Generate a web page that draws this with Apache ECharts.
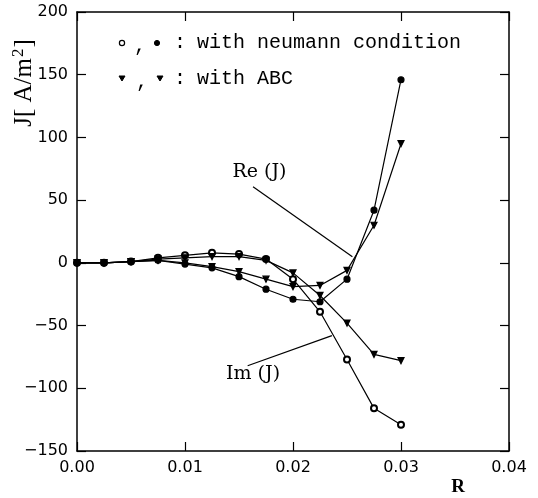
<!DOCTYPE html>
<html>
<head>
<meta charset="utf-8">
<script src="https://cdn.jsdelivr.net/npm/echarts@6/dist/echarts.min.js"></script>
<style>html,body{margin:0;padding:0;background:#fff}#c{width:538px;height:498px}</style>
</head>
<body>
<div id="c"></div>
<script>
const rValues = [0, 0.0025, 0.005, 0.0075, 0.01, 0.0125, 0.015, 0.0175, 0.02, 0.0225, 0.025, 0.0275, 0.03];
const imNeumann = [0, 0, 1, 4, 6, 8, 7, 3, -13, -39, -77, -116, -129];
const reNeumann = [0, 0, 1, 2, -1, -4, -11, -21, -29, -31, -13, 42, 146];
const imABC = [0, 0, 1, 3, 4, 5, 5, 2, -8, -26, -48, -73, -78];
const reABC = [0, 0, 1, 2, 0, -3, -7, -13, -19, -18, -6, 30, 95];
const xTicks = [0, 0.01, 0.02, 0.03, 0.04];
const yTicks = [-150, -100, -50, 0, 50, 100, 150, 200];
const reLeader = [[0.0163, 60.6], [0.0255, 4.8]];
const imLeader = [[0.0158, -82], [0.0236, -58]];
const reLabelPos = [0.0169, 72.5];
const imLabelPos = [0.0163, -89];

const pair = (ys) => rValues.map((x, i) => [x, ys[i]]);
const chart = echarts.init(document.getElementById('c'), null, {renderer: 'canvas'});
const black = '#000';
const lineStyle = {color: black, width: 1.2};
const tickFont = {color: black, fontSize: 16, fontFamily: 'DejaVu Sans'};
const serif = 'DejaVu Serif';

function mkSeries(name, data, symbol, size, rotate) {
  return {
    name, type: 'line', data: pair(data), symbol, symbolSize: size, symbolRotate: rotate || 0,
    lineStyle, itemStyle: {color: black, borderColor: black, borderWidth: 1.2},
    showAllSymbol: true, animation: false, z: 3
  };
}

const axisCommon = {
  axisLine: {show: true, onZero: false, lineStyle: {color: black, width: 1.5}},
  axisTick: {show: true, inside: true, length: 9, lineStyle: {color: black, width: 1.2}},
  splitLine: {show: false}
};

chart.setOption({
  animation: false,
  grid: {left: 77, right: 29, top: 12, bottom: 47},
  xAxis: [
    Object.assign({type: 'value', min: 0, max: 0.04, interval: 0.01, position: 'bottom',
      axisLabel: Object.assign({margin: 9, formatter: v => v.toFixed(2)}, tickFont)}, axisCommon),
    Object.assign({type: 'value', min: 0, max: 0.04, interval: 0.01, position: 'top',
      axisLabel: {show: false}}, axisCommon)
  ],
  yAxis: [
    Object.assign({type: 'value', min: -150, max: 200, interval: 50, position: 'left',
      axisLabel: Object.assign({margin: 9, formatter: v => String(v).replace('-', '\u2212')}, tickFont)}, axisCommon),
    Object.assign({type: 'value', min: -150, max: 200, interval: 50, position: 'right',
      axisLabel: {show: false}}, axisCommon)
  ],
  series: [
    mkSeries('Im neumann', imNeumann, 'emptyCircle', 6),
    mkSeries('Re neumann', reNeumann, 'circle', 6),
    mkSeries('Im ABC', imABC, 'triangle', 6, 180),
    Object.assign(mkSeries('Re ABC', reABC, 'triangle', 6, 180), {
      markLine: {
        silent: true, symbol: ['none', 'none'], animation: false,
        lineStyle: {color: black, width: 1.2, type: 'solid', opacity: 1}, label: {show: false},
        data: [
          [{coord: reLeader[0]}, {coord: reLeader[1]}],
          [{coord: imLeader[0]}, {coord: imLeader[1]}]
        ]
      }
    })
  ],
  graphic: [
    // y-axis title
    {type: 'text', x: 24, y: 83, rotation: Math.PI / 2,
      style: {text: '{a|J[ A/m}{s|2}{a|]}', align: 'center', verticalAlign: 'middle',
        rich: {a: {fontFamily: 'Liberation Serif', fontSize: 25, fill: black},
               s: {fontFamily: 'Liberation Serif', fontSize: 17, fill: black, verticalAlign: 'top', padding: [0, 1, 10, 1]}}}},
    // x-axis name
    {type: 'text', x: 458, y: 487,
      style: {text: 'R', align: 'center', verticalAlign: 'middle', fontFamily: 'Liberation Serif', fontWeight: 'bold', fontSize: 19, fill: black}},
    // legend line 1
    {type: 'circle', shape: {cx: 122, cy: 43, r: 2.6}, style: {fill: '#fff', stroke: black, lineWidth: 1.2}},
    {type: 'text', x: 140, y: 46, style: {text: ',', align: 'center', verticalAlign: 'middle', fontFamily: 'Liberation Mono', fontSize: 20, fill: black}},
    {type: 'circle', shape: {cx: 157, cy: 43, r: 2.6}, style: {fill: black, stroke: black, lineWidth: 1}},
    {type: 'text', x: 180, y: 43, style: {text: ':', align: 'center', verticalAlign: 'middle', fontFamily: 'Liberation Mono', fontSize: 20, fill: black}},
    {type: 'text', x: 197, y: 43, style: {text: 'with neumann condition', align: 'left', verticalAlign: 'middle', fontFamily: 'Liberation Mono', fontSize: 20, fill: black}},
    // legend line 2
    {type: 'polygon', shape: {points: [[119, 76], [125, 76], [122, 81]]}, style: {fill: black, stroke: black, lineWidth: 1}},
    {type: 'text', x: 142, y: 82, style: {text: ',', align: 'center', verticalAlign: 'middle', fontFamily: 'Liberation Mono', fontSize: 20, fill: black}},
    {type: 'polygon', shape: {points: [[157, 76], [163, 76], [160, 81]]}, style: {fill: black, stroke: black, lineWidth: 1}},
    {type: 'text', x: 180, y: 79, style: {text: ':', align: 'center', verticalAlign: 'middle', fontFamily: 'Liberation Mono', fontSize: 20, fill: black}},
    {type: 'text', x: 197, y: 79, style: {text: 'with ABC', align: 'left', verticalAlign: 'middle', fontFamily: 'Liberation Mono', fontSize: 20, fill: black}}
  ]
});

// curve annotations, placed through the chart's own scales
const rePx = chart.convertToPixel({xAxisIndex: 0, yAxisIndex: 0}, reLabelPos);
const imPx = chart.convertToPixel({xAxisIndex: 0, yAxisIndex: 0}, imLabelPos);
const opt = chart.getOption();
const g = opt.graphic && opt.graphic[0] ? opt.graphic[0].elements : [];
chart.setOption({
  graphic: [
    {id: 'reLabel', type: 'text', x: rePx[0], y: rePx[1], z: 10,
      style: {text: 'Re (J)', align: 'center', verticalAlign: 'middle', fontFamily: serif, fontSize: 19, fill: black}},
    {id: 'imLabel', type: 'text', x: imPx[0], y: imPx[1], z: 10,
      style: {text: 'Im (J)', align: 'center', verticalAlign: 'middle', fontFamily: serif, fontSize: 19, fill: black}}
  ]
});
</script>
</body>
</html>
